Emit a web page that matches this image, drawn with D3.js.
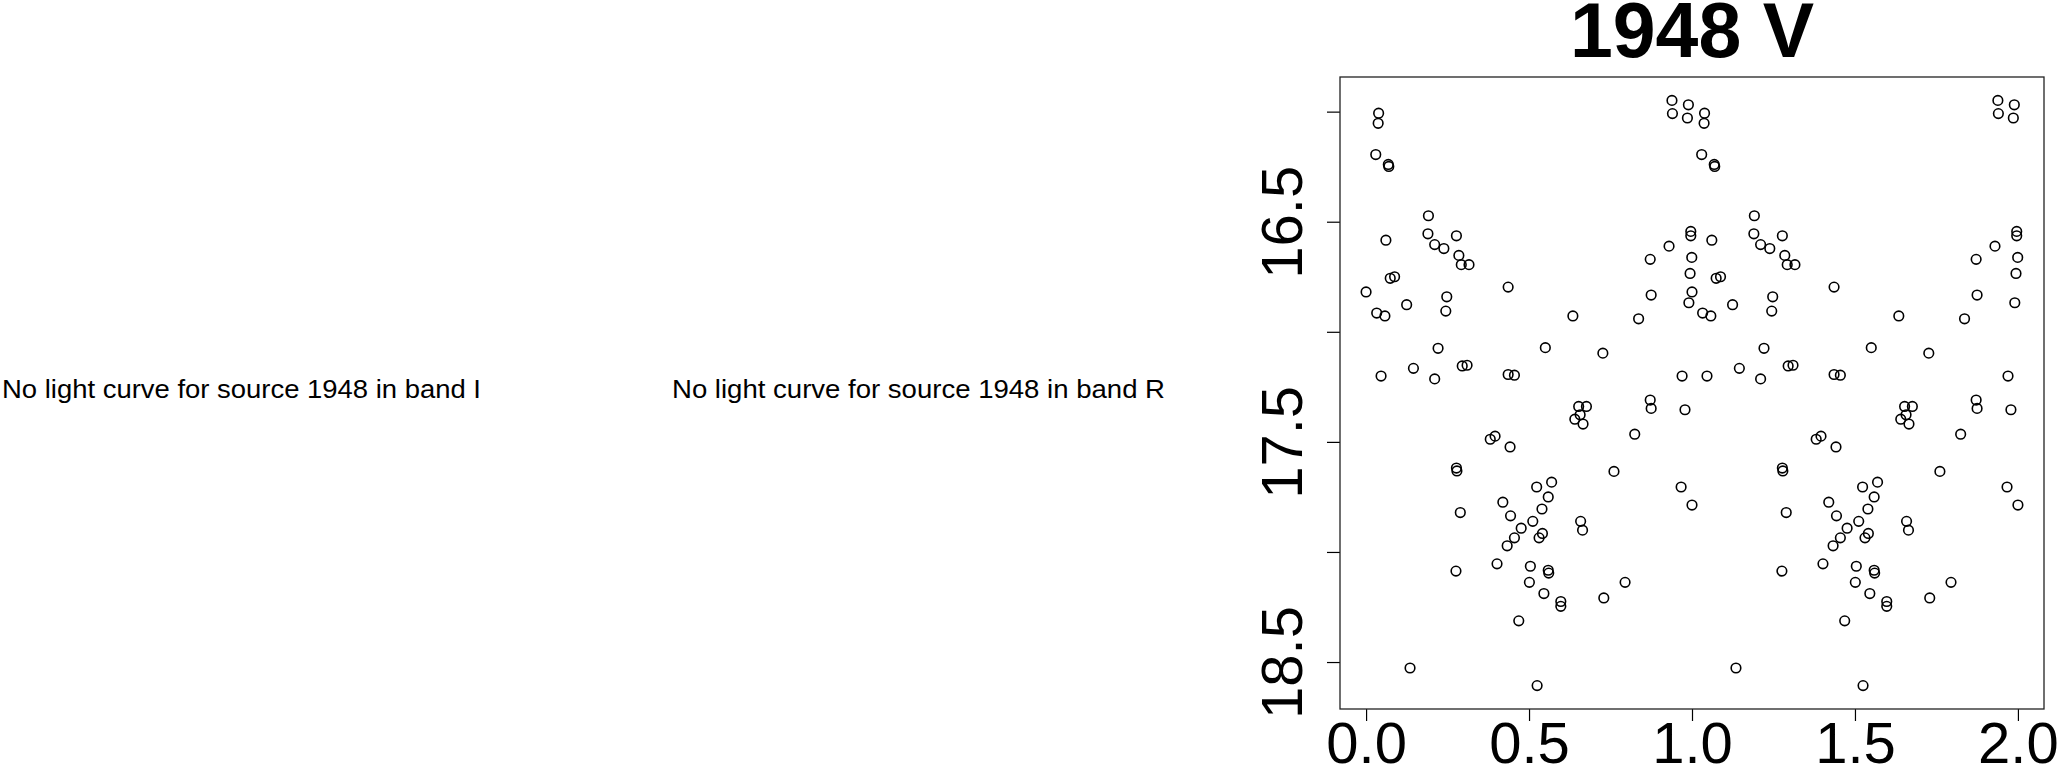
<!DOCTYPE html>
<html>
<head>
<meta charset="utf-8">
<script src="https://cdn.jsdelivr.net/npm/d3@7"></script>
<style>
    body { margin: 0; background: #fff; }
    svg { display: block; font-family: "Liberation Sans", Arial, Helvetica, sans-serif; }
</style>
</head>
<body>
<div id="chart"></div>
<script>
// Light curve of source 1948, V band, folded on its period.
// phase in [0,1], mag = V magnitude
var phase = [
    0.9385, 0.9889, 0.0385, 0.9400, 0.9859, 0.0371, 0.0297, 0.0682, 0.0697, 0.1913,
    0.9963, 0.1898, 0.9963, 0.2772, 0.0608, 0.2105, 0.9296, 0.2387, 0.2847, 0.8718,
    0.9993, 0.2921, 0.3158, 0.9941, 0.0741, 0.0875, 0.4359, 0.0000, 0.8747, 0.2476,
    0.1245, 0.9904, 0.0326, 0.2446, 0.0578, 0.6345, 0.8362, 0.2209, 0.5500, 0.7265,
    0.1453, 0.2950, 0.3099, 0.0460, 0.2105, 0.4359, 0.4552, 0.9696, 0.8718, 0.8747,
    0.9785, 0.6523, 0.6761, 0.6405, 0.6568, 0.6657, 0.8243, 0.3810, 0.3958, 0.4418,
    0.2772, 0.2787, 0.7606, 0.5693, 0.5234, 0.9666, 0.5589, 0.4196, 1.0000, 0.2891,
    0.5397, 0.4433, 0.5115, 0.6583, 0.4759, 0.6642, 0.5411, 0.5308, 0.4552, 0.4329,
    0.4018, 0.2758, 0.5041, 0.5589, 0.5604, 0.5011, 0.7947, 0.5456, 0.7294, 0.5975,
    0.5975, 0.4685, 0.1349, 0.5248
];
var mag = [
    15.949, 15.969, 16.007, 16.009, 16.029, 16.053, 16.195, 16.240, 16.249, 16.473,
    16.544, 16.555, 16.564, 16.564, 16.584, 16.604, 16.611, 16.622, 16.653, 16.671,
    16.662, 16.695, 16.695, 16.735, 16.757, 16.750, 16.797, 16.819, 16.833, 16.841,
    16.877, 16.868, 16.915, 16.906, 16.928, 16.928, 16.941, 17.075, 17.072, 17.097,
    17.166, 17.155, 17.152, 17.201, 17.214, 17.194, 17.197, 17.201, 17.310, 17.348,
    17.354, 17.339, 17.339, 17.397, 17.377, 17.419, 17.465, 17.488, 17.474, 17.523,
    17.619, 17.632, 17.634, 17.683, 17.705, 17.705, 17.750, 17.774, 17.787, 17.821,
    17.805, 17.836, 17.861, 17.861, 17.892, 17.901, 17.916, 17.936, 17.936, 17.972,
    18.054, 18.087, 18.065, 18.083, 18.096, 18.138, 18.138, 18.189, 18.209, 18.225,
    18.247, 18.313, 18.527, 18.607
];

var xTicks = [0, 0.5, 1, 1.5, 2];
var yTicks = [16, 16.5, 17, 17.5, 18, 18.5];
var yLabelled = [16.5, 17.5, 18.5];

var source = "1948";
var missingBands = ["I", "R"];
var shownBand = "V";

// Sizing
var width = 2057;
var height = 767;
var box = {left: 1340, right: 2044, top: 77, bottom: 709};

var svg = d3.select('#chart')
    .append('svg')
    .attr('width', width)
    .attr('height', height);

// panels with no data just get a message
var msgX = [2, 672];
var msgLen = [479, 493];
missingBands.forEach(function (band, i) {
    svg.append('text')
        .attr('x', msgX[i])
        .attr('y', 398)
        .attr('font-size', 26)
        .attr('textLength', msgLen[i])
        .attr('lengthAdjust', 'spacingAndGlyphs')
        .text('No light curve for source ' + source + ' in band ' + band);
});

// points are shown over two cycles: phase and phase + 1
var points = [];
for (var i = 0; i < phase.length; i++) {
    points.push({x: phase[i], y: mag[i]});
    points.push({x: phase[i] + 1, y: mag[i]});
}

// R style 4% padding around the data range
function padded(lo, hi) {
    var d = (hi - lo) * 0.04;
    return [lo - d, hi + d];
}

var x = d3.scaleLinear()
    .domain(padded(d3.min(points, function (d) { return d.x; }), d3.max(points, function (d) { return d.x; })))
    .range([box.left, box.right]);

// magnitudes: brighter at the top
var y = d3.scaleLinear()
    .domain(padded(d3.min(mag), d3.max(mag)))
    .range([box.top, box.bottom]);

svg.append('text')
    .attr('x', (box.left + box.right) / 2)
    .attr('y', 57)
    .attr('text-anchor', 'middle')
    .attr('font-size', 77)
    .attr('font-weight', 'bold')
    .text(source + ' ' + shownBand);

svg.selectAll('.pt')
    .data(points)
    .enter().append('circle')
    .classed('pt', true)
    .attr('cx', function (d) { return x(d.x); })
    .attr('cy', function (d) { return y(d.y); })
    .attr('r', 4.8)
    .attr('fill', 'none')
    .attr('stroke', '#000')
    .attr('stroke-width', 1.6);

// x axis
var xAxis = svg.append('g')
    .attr('transform', 'translate(0,' + box.bottom + ')')
    .call(d3.axisBottom(x).tickValues(xTicks).tickSize(12).tickFormat(d3.format('.1f')));
xAxis.select('.domain').remove();
xAxis.selectAll('line').attr('stroke', '#000').attr('stroke-width', 1.2);
xAxis.selectAll('text')
    .attr('y', 54)
    .attr('dy', 0)
    .attr('fill', '#000')
    .attr('font-size', 58)
    .attr('font-family', '"Liberation Sans", Arial, sans-serif');

// y axis, labels rotated like R's default las = 0
var yAxis = svg.append('g')
    .attr('transform', 'translate(' + box.left + ',0)')
    .call(d3.axisLeft(y).tickValues(yTicks).tickSize(13)
        .tickFormat(function (d) { return yLabelled.indexOf(d) >= 0 ? d3.format('.1f')(d) : ''; }));
yAxis.select('.domain').remove();
yAxis.selectAll('line').attr('stroke', '#000').attr('stroke-width', 1.2);
yAxis.selectAll('text')
    .attr('x', 0)
    .attr('dy', 0)
    .attr('transform', 'translate(-38,0) rotate(-90)')
    .attr('text-anchor', 'middle')
    .attr('fill', '#000')
    .attr('font-size', 58)
    .attr('font-family', '"Liberation Sans", Arial, sans-serif');

// plot frame
svg.append('rect')
    .attr('x', box.left)
    .attr('y', box.top)
    .attr('width', box.right - box.left)
    .attr('height', box.bottom - box.top)
    .attr('fill', 'none')
    .attr('stroke', '#222')
    .attr('stroke-width', 1.3);
</script>
</body>
</html>
